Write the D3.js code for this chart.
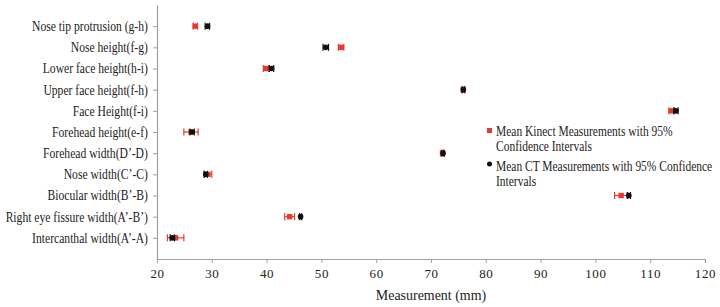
<!DOCTYPE html>
<html>
<head>
<meta charset="utf-8">
<script src="https://cdn.jsdelivr.net/npm/d3@7"></script>
<style>
  body { margin: 0; background: #fff; }
  svg text { font-family: "Liberation Serif", "Times New Roman", Times, "DejaVu Serif", serif !important; }
</style>
</head>
<body>
<div id="chart"></div>
<script>
// categories, listed top to bottom as in the reference
const categories = [
  "Nose tip protrusion (g-h)",
  "Nose height(f-g)",
  "Lower face height(h-i)",
  "Upper face height(f-h)",
  "Face Height(f-i)",
  "Forehead height(e-f)",
  "Forehead width(D\u2019-D)",
  "Nose width(C\u2019-C)",
  "Biocular width(B\u2019-B)",
  "Right eye fissure width(A\u2019-B\u2019)",
  "Intercanthal width(A\u2019-A)"
];

const kinectMean = [27.0, 53.6, 39.9, 75.9, 113.9, 26.2, 72.1, 29.3, 104.7, 44.2, 23.4];
const kinectCI   = [0.4, 0.5, 0.5, 0.3, 0.5, 1.3, 0.3, 0.7, 1.2, 0.9, 1.5];
const ctMean     = [29.2, 50.8, 40.9, 75.9, 114.7, 26.4, 72.2, 28.9, 106.1, 46.2, 22.8];
const ctCI       = [0.4, 0.5, 0.4, 0.2, 0.4, 0.4, 0.2, 0.3, 0.3, 0.2, 0.4];

const xTicks = [20, 30, 40, 50, 60, 70, 80, 90, 100, 110, 120];

const legendKinect = ["Mean Kinect Measurements with 95%", "Confidence Intervals"];
const legendCT = ["Mean CT Measurements with 95% Confidence", "Intervals"];

const width = 720, height = 307;
const margin = {top: 5, right: 15, bottom: 48, left: 157};

const svg = d3.select("#chart").append("svg")
  .attr("width", width)
  .attr("height", height);

const x = d3.scaleLinear()
  .domain([20, 120])
  .range([margin.left, width - margin.right]);

// y: position 1..11 bottom to top, axis 0..12
const y = d3.scaleLinear()
  .domain([0, 12])
  .range([height - margin.bottom, margin.top]);

const rows = categories.map((c, i) => ({
  name: c,
  pos: categories.length - i,
  k: kinectMean[i], kci: kinectCI[i],
  c: ctMean[i], cci: ctCI[i]
}));

const axisColor = "#a0a0a0";

// x axis
const xAxis = svg.append("g")
  .attr("transform", `translate(0,${y(0)})`)
  .call(d3.axisBottom(x).tickValues(xTicks).tickSize(4).tickPadding(6).tickSizeOuter(0));
xAxis.select(".domain").attr("stroke", axisColor).attr("stroke-width", 1.2);
xAxis.selectAll(".tick line").attr("stroke", axisColor);
xAxis.selectAll(".tick text")
  .attr("font-size", 13)
  .attr("fill", "#222")
  .attr("letter-spacing", 0.6);

// y axis (labels squeezed sideways like the reference)
const yAxis = svg.append("g")
  .attr("transform", `translate(${x(20)},0)`)
  .call(d3.axisLeft(y).tickValues(rows.map(d => d.pos))
    .tickFormat(p => rows.find(r => r.pos === p).name)
    .tickSize(4).tickPadding(7).tickSizeOuter(0));
yAxis.select(".domain").attr("stroke", axisColor).attr("stroke-width", 1.2);
yAxis.selectAll(".tick line").attr("stroke", axisColor);
yAxis.selectAll(".tick text")
  .attr("font-size", 14)
  .attr("fill", "#222")
  .attr("transform", "scale(0.83,1)");

// axis title
svg.append("text")
  .attr("transform", `translate(${(x(20) + x(120)) / 2},300) scale(0.9,1)`)
  .attr("text-anchor", "middle")
  .attr("font-size", 15.5)
  .attr("fill", "#222")
  .text("Measurement (mm)");

const red = "#e53a30";
const capH = 3.5;

function errorBars(g, key, ci, color) {
  const eb = g.selectAll(".eb-" + key)
    .data(rows)
    .join("g")
    .attr("class", "eb-" + key)
    .attr("stroke", color)
    .attr("stroke-width", 1.2);
  eb.append("line")
    .attr("x1", d => x(d[key] - d[ci])).attr("x2", d => x(d[key] + d[ci]))
    .attr("y1", d => y(d.pos)).attr("y2", d => y(d.pos));
  eb.append("line")
    .attr("x1", d => x(d[key] - d[ci])).attr("x2", d => x(d[key] - d[ci]))
    .attr("y1", d => y(d.pos) - capH).attr("y2", d => y(d.pos) + capH);
  eb.append("line")
    .attr("x1", d => x(d[key] + d[ci])).attr("x2", d => x(d[key] + d[ci]))
    .attr("y1", d => y(d.pos) - capH).attr("y2", d => y(d.pos) + capH);
}

const marks = svg.append("g");

errorBars(marks, "k", "kci", red);
marks.selectAll(".kin")
  .data(rows)
  .join("rect")
  .attr("class", "kin")
  .attr("x", d => x(d.k) - 2.7)
  .attr("y", d => y(d.pos) - 2.7)
  .attr("width", 5.4)
  .attr("height", 5.4)
  .attr("fill", red);

errorBars(marks, "c", "cci", "#111");
marks.selectAll(".ct")
  .data(rows)
  .join("circle")
  .attr("class", "ct")
  .attr("cx", d => x(d.c))
  .attr("cy", d => y(d.pos))
  .attr("r", 2.8)
  .attr("fill", "#111");

// legend
const legend = svg.append("g").attr("font-size", 14).attr("fill", "#222");
legend.append("rect")
  .attr("x", 487).attr("y", 128).attr("width", 5).attr("height", 5)
  .attr("fill", red);
legend.append("text")
  .attr("transform", "translate(496,136) scale(0.82,1)")
  .selectAll("tspan")
  .data(legendKinect)
  .join("tspan")
  .attr("x", 0)
  .attr("dy", (d, i) => i ? 15 : 0)
  .text(d => d);
legend.append("circle")
  .attr("cx", 489.5).attr("cy", 164).attr("r", 2.5)
  .attr("fill", "#111");
legend.append("text")
  .attr("transform", "translate(496,171) scale(0.82,1)")
  .selectAll("tspan")
  .data(legendCT)
  .join("tspan")
  .attr("x", 0)
  .attr("dy", (d, i) => i ? 15 : 0)
  .text(d => d);
</script>
</body>
</html>
